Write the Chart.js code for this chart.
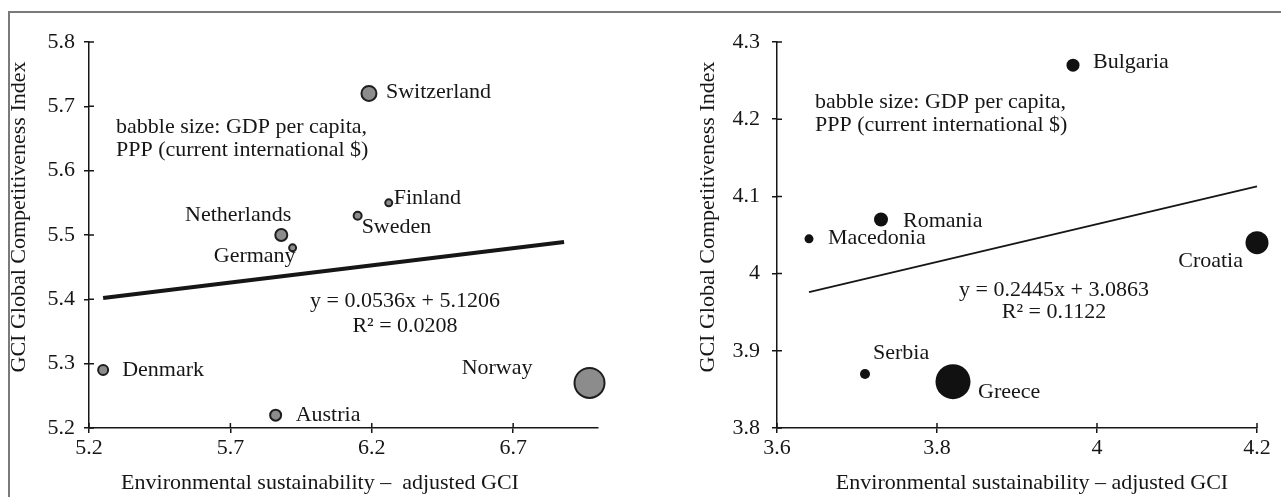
<!DOCTYPE html>
<html>
<head>
<meta charset="utf-8">
<script src="https://cdn.jsdelivr.net/npm/chart.js@4.4.1/dist/chart.umd.min.js"></script>
<style>
  html, body { margin: 0; padding: 0; background: #fff; }
  #page { position: relative; width: 1281px; height: 497px; overflow: hidden; }
  #frame { position: absolute; left: 8px; top: 11px; width: 1300px; height: 520px;
           border-top: 2px solid #7a7a7a; border-left: 2px solid #7a7a7a; }
  canvas { position: absolute; top: 0; }
  #left { left: 0; }
  #right { left: 640px; }
</style>
</head>
<body>
<div id="page">
  <div id="frame"></div>
  <canvas id="left" width="640" height="497"></canvas>
  <canvas id="right" width="641" height="497"></canvas>
</div>
<script>
/* DATA — left panel (Nordic / Western Europe) */
const countriesA = ['Switzerland', 'Finland', 'Sweden', 'Netherlands', 'Germany', 'Denmark', 'Austria', 'Norway'];
const esgciA = [6.19, 6.26, 6.15, 5.88, 5.92, 5.25, 5.86, 6.97];
const gciA = [5.72, 5.55, 5.53, 5.50, 5.48, 5.29, 5.22, 5.27];
const bubbleA = [7.5, 3.5, 4, 6, 3.5, 5, 5.5, 15];
const trendXA = [5.25, 6.88];
const trendYA = [5.402, 5.489];
const xTicksA = [5.2, 5.7, 6.2, 6.7];
const yTicksA = [5.2, 5.3, 5.4, 5.5, 5.6, 5.7, 5.8];
const eqA = ['y = 0.0536x + 5.1206', 'R² = 0.0208'];

/* DATA — right panel (South-East Europe) */
const countriesB = ['Bulgaria', 'Romania', 'Macedonia', 'Croatia', 'Serbia', 'Greece'];
const esgciB = [3.97, 3.73, 3.64, 4.20, 3.71, 3.82];
const gciB = [4.27, 4.07, 4.045, 4.04, 3.87, 3.86];
const bubbleB = [6.5, 7, 4.5, 11.5, 5, 17.5];
const trendXB = [3.64, 4.20];
const trendYB = [3.976, 4.113];
const xTicksB = [3.6, 3.8, 4.0, 4.2];
const yTicksB = [3.8, 3.9, 4.0, 4.1, 4.2, 4.3];
const eqB = ['y = 0.2445x + 3.0863', 'R² = 0.1122'];

const NOTE = ['babble size: GDP per capita,', 'PPP (current international $)'];
const Y_TITLE = 'GCI Global Competitiveness Index';

/* STYLE */
const INK = '#161616';
const FAMILY = "'Liberation Serif', 'Times New Roman', serif";
const FONT = '22px ' + FAMILY;
Chart.defaults.font.family = FAMILY;
Chart.defaults.font.size = 22;
Chart.defaults.color = INK;

/* ticks crossing the axis line (Excel "cross" tick marks) */
const crossTicks = {
  id: 'crossTicks',
  afterDraw(chart) {
    const { ctx, chartArea: a, scales: { x, y } } = chart;
    ctx.save();
    ctx.strokeStyle = INK;
    ctx.lineWidth = 1.5;
    ctx.beginPath();
    x.ticks.forEach((t, i) => { const px = x.getPixelForTick(i); ctx.moveTo(px, a.bottom); ctx.lineTo(px, a.bottom - 5); });
    y.ticks.forEach((t, i) => { const py = y.getPixelForTick(i); ctx.moveTo(a.left, py); ctx.lineTo(a.left + 5, py); });
    ctx.stroke();
    ctx.restore();
  }
};

function buildChart(c) {
  const pts = c.xs.map((v, i) => ({ x: v, y: c.ys[i], r: c.rs[i] }));
  const trend = c.tx.map((v, i) => ({ x: v, y: c.ty[i] }));

  const texts = {
    id: 'texts',
    afterDraw(chart) {
      const { ctx, scales: { x, y } } = chart;
      ctx.save();
      ctx.fillStyle = INK;
      ctx.font = FONT;
      ctx.textBaseline = 'alphabetic';
      // country labels, offset from the bubble centre
      c.names.forEach((n, i) => {
        const [dx, dy, align] = c.labelPos[i];
        ctx.textAlign = align;
        ctx.fillText(n, x.getPixelForValue(c.xs[i]) + dx, y.getPixelForValue(c.ys[i]) + dy);
      });
      ctx.textAlign = 'left';
      ctx.fillText(NOTE[0], c.note[0], c.note[1]);
      ctx.fillText(NOTE[1], c.note[0], c.note[2]);
      ctx.textAlign = 'center';
      ctx.fillText(c.eq[0], c.eqPos[0], c.eqPos[1]);
      ctx.fillText(c.eq[1], c.eqPos[0], c.eqPos[2]);
      ctx.fillText(c.xTitle, c.xTitlePos[0], c.xTitlePos[1]);
      ctx.translate(c.yTitlePos[0], c.yTitlePos[1]);
      ctx.rotate(-Math.PI / 2);
      ctx.textBaseline = 'middle';
      ctx.fillText(Y_TITLE, 0, 0);
      ctx.restore();
    }
  };

  return new Chart(document.getElementById(c.canvas), {
    type: 'bubble',
    data: {
      datasets: [
        { type: 'line', data: trend, borderColor: INK, borderWidth: c.lineW, pointRadius: 0, fill: false, clip: false, order: 2 },
        { data: pts, backgroundColor: c.fill, borderColor: c.stroke, borderWidth: c.strokeW, clip: false, order: 1 }
      ]
    },
    options: {
      responsive: false, animation: false, devicePixelRatio: 1, events: [],
      layout: { padding: { top: 42, right: c.padRight, left: 0, bottom: 0 } },
      plugins: { legend: { display: false }, tooltip: { enabled: false } },
      scales: {
        x: {
          type: 'linear', min: c.xMin, max: c.xMax,
          afterBuildTicks: s => { s.ticks = c.xTicks.map(v => ({ value: v })); },
          afterFit: s => { s.height = 69; },
          ticks: { callback: v => String(v), padding: 2, maxRotation: 0, autoSkip: false },
          grid: { drawOnChartArea: false, tickLength: 5, color: INK, lineWidth: 1.5 },
          border: { color: INK, width: 1.5 }
        },
        y: {
          type: 'linear', min: c.yMin, max: c.yMax,
          afterBuildTicks: s => { s.ticks = c.yTicks.map(v => ({ value: v })); },
          afterFit: s => { s.width = c.yWidth; },
          ticks: { callback: v => String(v), padding: c.yTickPad, autoSkip: false },
          grid: { drawOnChartArea: false, tickLength: 5, color: INK, lineWidth: 1.5 },
          border: { color: INK, width: 1.5 }
        }
      }
    },
    plugins: [crossTicks, texts]
  });
}

buildChart({
  canvas: 'left',
  names: countriesA, xs: esgciA, ys: gciA, rs: bubbleA,
  tx: trendXA, ty: trendYA, eq: eqA,
  xMin: 5.2, xMax: 7.0, yMin: 5.2, yMax: 5.8, xTicks: xTicksA, yTicks: yTicksA,
  yWidth: 89, padRight: 42, yTickPad: 9,
  fill: '#8c8c8c', stroke: '#1e1e1e', strokeW: 2, lineW: 4,
  labelPos: [[17, 5, 'left'], [5, 1, 'left'], [4, 17, 'left'], [10, -14, 'right'],
             [3, 14, 'right'], [19, 6, 'left'], [20, 6, 'left'], [-57, -9, 'right']],
  note: [116, 133, 156],
  eqPos: [405, 307, 332],
  xTitle: 'Environmental sustainability –  adjusted GCI', xTitlePos: [320, 489],
  yTitlePos: [19, 217]
});

buildChart({
  canvas: 'right',
  names: countriesB, xs: esgciB, ys: gciB, rs: bubbleB,
  tx: trendXB, ty: trendYB, eq: eqB,
  xMin: 3.6, xMax: 4.2, yMin: 3.8, yMax: 4.3, xTicks: xTicksB, yTicks: yTicksB,
  yWidth: 137, padRight: 24, yTickPad: 12,
  fill: '#111111', stroke: '#111111', strokeW: 0, lineW: 2,
  labelPos: [[20, 3, 'left'], [22, 7, 'left'], [19, 5, 'left'], [-14, 24, 'right'],
             [8, -15, 'left'], [25, 16, 'left']],
  note: [175, 108, 131],
  eqPos: [414, 296, 318],
  xTitle: 'Environmental sustainability – adjusted GCI', xTitlePos: [392, 489],
  yTitlePos: [68, 217]
});
</script>
</body>
</html>
